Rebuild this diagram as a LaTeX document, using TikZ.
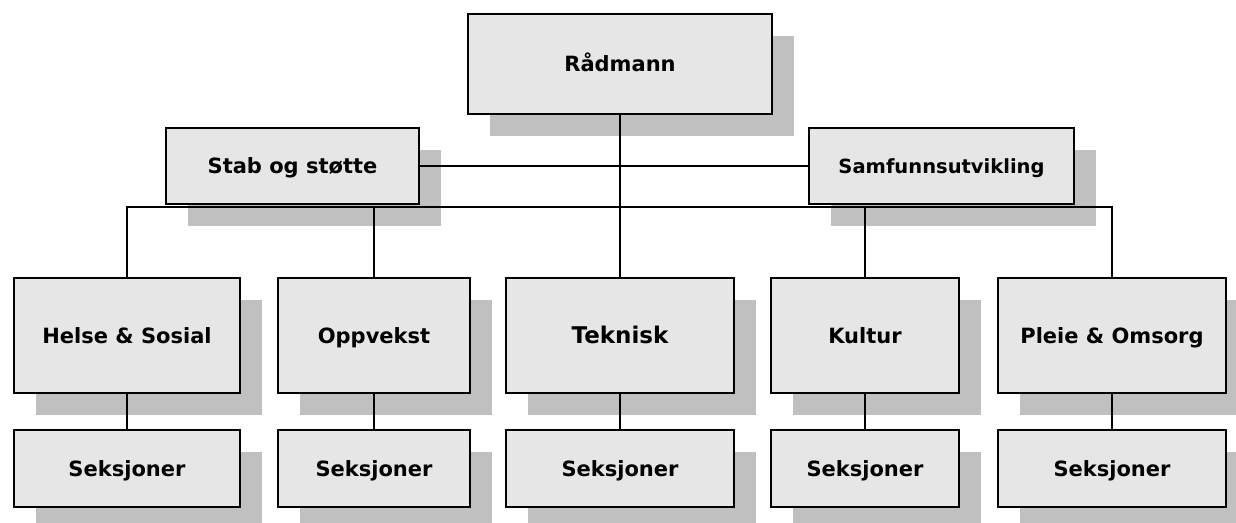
\documentclass[tikz,border=0pt]{standalone}
\usepackage{fontspec}
\setmainfont{DejaVu Sans}
\usetikzlibrary{shadows}
\definecolor{boxgray}{RGB}{230,230,230}
\definecolor{shgray}{RGB}{192,192,192}
\tikzset{
  orgbox/.style={draw=black, line width=2pt, fill=boxgray, inner sep=0pt,
    anchor=north west, font=\bfseries\fontsize{21}{25}\selectfont,
    text height=15pt, text depth=0pt,
    drop shadow={shadow xshift=22pt, shadow yshift=-22pt, fill=shgray, opacity=1}},
  conn/.style={draw=black, line width=2pt}
}
\begin{document}
\begin{tikzpicture}[x=1pt,y=-1pt]
\useasboundingbox (0,0) rectangle (1236,522);
\clip (0,0) rectangle (1236,522);
% top
\node[orgbox, minimum width=304pt, minimum height=100pt] (rad) at (467,13) {Rådmann};
\node[orgbox, minimum width=253pt, minimum height=76pt] (stab) at (165,127) {Stab og støtte};
\node[orgbox, minimum width=265pt, minimum height=76pt, font=\bfseries\fontsize{19.5}{24}\selectfont, text height=14pt] (samf) at (808,127) {Samfunnsutvikling};
% row 3
\node[orgbox, minimum width=226pt, minimum height=115pt] (hel) at (13,277) {Helse \& Sosial};
\node[orgbox, minimum width=192pt, minimum height=115pt] (opp) at (277,277) {Oppvekst};
\node[orgbox, minimum width=228pt, minimum height=115pt, font=\bfseries\fontsize{23}{27}\selectfont, text height=16.5pt] (tek) at (505,277) {Teknisk};
\node[orgbox, minimum width=188pt, minimum height=115pt] (kul) at (770,277) {Kultur};
\node[orgbox, minimum width=228pt, minimum height=115pt] (ple) at (997,277) {Pleie \& Omsorg};
% row 4
\node[orgbox, minimum width=226pt, minimum height=77pt] (s1) at (13,429) {Seksjoner};
\node[orgbox, minimum width=192pt, minimum height=77pt] (s2) at (277,429) {Seksjoner};
\node[orgbox, minimum width=228pt, minimum height=77pt] (s3) at (505,429) {Seksjoner};
\node[orgbox, minimum width=188pt, minimum height=77pt] (s4) at (770,429) {Seksjoner};
\node[orgbox, minimum width=228pt, minimum height=77pt] (s5) at (997,429) {Seksjoner};
% connectors
\coordinate (bus) at (0,207);
\draw[conn] (rad.south) -- (tek.north);
\draw[conn] (stab.east) -- (samf.west);
\draw[conn] (hel.north) -- (hel.north |- bus) -- (ple.north |- bus) -- (ple.north);
\draw[conn] (opp.north) -- (opp.north |- bus);
\draw[conn] (kul.north) -- (kul.north |- bus);
\draw[conn] (hel.south) -- (s1.north);
\draw[conn] (opp.south) -- (s2.north);
\draw[conn] (tek.south) -- (s3.north);
\draw[conn] (kul.south) -- (s4.north);
\draw[conn] (ple.south) -- (s5.north);
\end{tikzpicture}
\end{document}
